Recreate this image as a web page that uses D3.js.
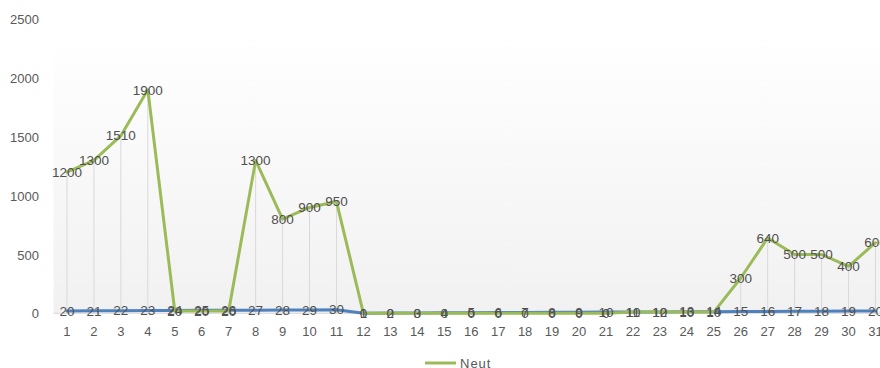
<!DOCTYPE html>
<html>
  <head>
    <meta http-equiv="Content-Type" content="text/html;charset=utf-8"/>
    <style type="text/css">

body {
  margin: 0;
  background: #fff;
  overflow: hidden;
}

svg {
  font-family: "Liberation Sans", Arial, sans-serif;
  display: block;
}

.axis text {
  fill: #595959;
  font-size: 13px;
}

.axis path, .axis line {
  display: none;
}

.labels text {
  fill: #505050;
  font-size: 13.5px;
}

.drop line {
  stroke: #d9d9d9;
  stroke-width: 1px;
}

.series {
  fill: none;
  stroke-width: 3px;
  stroke-linejoin: round;
  stroke-linecap: round;
}

.legend text {
  fill: #595959;
  font-size: 13px;
  letter-spacing: 1px;
}

    </style>
  </head>
  <body>
    <svg></svg>

    <script type="text/javascript" src="https://cdn.jsdelivr.net/npm/d3@7"></script>

    <script type="text/javascript">

// x categories (tick labels along the bottom)
var categories = ["1","2","3","4","5","6","7","8","9","10","11","12","13","14","15","16",
                  "17","18","19","20","21","22","23","24","25","26","27","28","29","30","31"];

// blue series (day numbers, not in the legend)
var days = [20,21,22,23,24,25,26,27,28,29,30,1,2,3,4,5,6,7,8,9,10,
            11,12,13,14,15,16,17,18,19,20];

// green series "Neut"
var neut = [1200,1300,1510,1900,20,20,20,1300,800,900,950,0,0,0,0,0,0,0,0,0,0,
            10,10,10,10,300,640,500,500,400,600];

var yTicks = [0,500,1000,1500,2000,2500];

var W = 880, H = 368;

var svg = d3.select("svg")
    .attr("width", W)
    .attr("height", H);

// plot area: chart runs off the right edge like the original crop
var x = d3.scaleBand()
    .domain(categories)
    .range([53.5, 53.5 + 31 * 26.95]);

var y = d3.scaleLinear()
    .domain([0, 2500])
    .range([313.3, 19.3]);

function cx(i) { return x(categories[i]) + x.bandwidth() / 2; }

// background gradient
var grad = svg.append("defs").append("linearGradient")
    .attr("id", "bg")
    .attr("x1", 0).attr("y1", 0).attr("x2", 0).attr("y2", 1);
grad.append("stop").attr("offset", "0%").attr("stop-color", "#ffffff");
grad.append("stop").attr("offset", "100%").attr("stop-color", "#f1f1f1");

svg.append("rect")
    .attr("x", x.range()[0])
    .attr("y", 34)
    .attr("width", x.range()[1] - x.range()[0])
    .attr("height", y(0) - 34)
    .attr("fill", "url(#bg)");

// baseline
svg.append("line")
    .attr("x1", x.range()[0]).attr("x2", x.range()[1])
    .attr("y1", y(0)).attr("y2", y(0))
    .attr("stroke", "#d9d9d9");

// drop lines from the highest point to the axis
svg.append("g")
    .attr("class", "drop")
  .selectAll("line")
    .data(categories)
  .enter().append("line")
    .attr("x1", function(d, i) { return cx(i); })
    .attr("x2", function(d, i) { return cx(i); })
    .attr("y1", function(d, i) { return y(Math.max(neut[i], days[i])); })
    .attr("y2", y(0));

// axes
svg.append("g")
    .attr("class", "axis")
    .attr("transform", "translate(39,0)")
    .call(d3.axisLeft(y).tickValues(yTicks).tickFormat(d3.format("d")).tickSize(0).tickPadding(0))
    .selectAll("text").attr("dy", "0.35em");

svg.append("g")
    .attr("class", "axis")
    .attr("transform", "translate(0," + (y(0) + 18) + ")")
    .call(d3.axisBottom(x).tickSize(0).tickPadding(0))
    .selectAll("text").attr("dy", "0.35em");

// straight segments between points
var line = d3.line()
    .x(function(d, i) { return cx(i); })
    .y(function(d) { return y(d); });

svg.append("path")
    .attr("class", "series")
    .attr("stroke", "#4f81bd")
    .attr("d", line(days));

svg.append("path")
    .attr("class", "series")
    .attr("stroke", "#9bbb59")
    .attr("d", line(neut));

// data labels, centred on the points
[days, neut].forEach(function(s) {
  svg.append("g")
      .attr("class", "labels")
    .selectAll("text")
      .data(s)
    .enter().append("text")
      .attr("x", function(d, i) { return cx(i); })
      .attr("y", function(d) { return y(d); })
      .attr("dy", "0.35em")
      .attr("text-anchor", "middle")
      .text(function(d) { return d; });
});

// legend
var legend = svg.append("g")
    .attr("class", "legend")
    .attr("transform", "translate(425,363)");

legend.append("line")
    .attr("x2", 31)
    .attr("stroke", "#9bbb59")
    .attr("stroke-width", 3);

legend.append("text")
    .attr("x", 35)
    .attr("dy", "0.35em")
    .text("Neut");

    </script>
  </body>
</html>
